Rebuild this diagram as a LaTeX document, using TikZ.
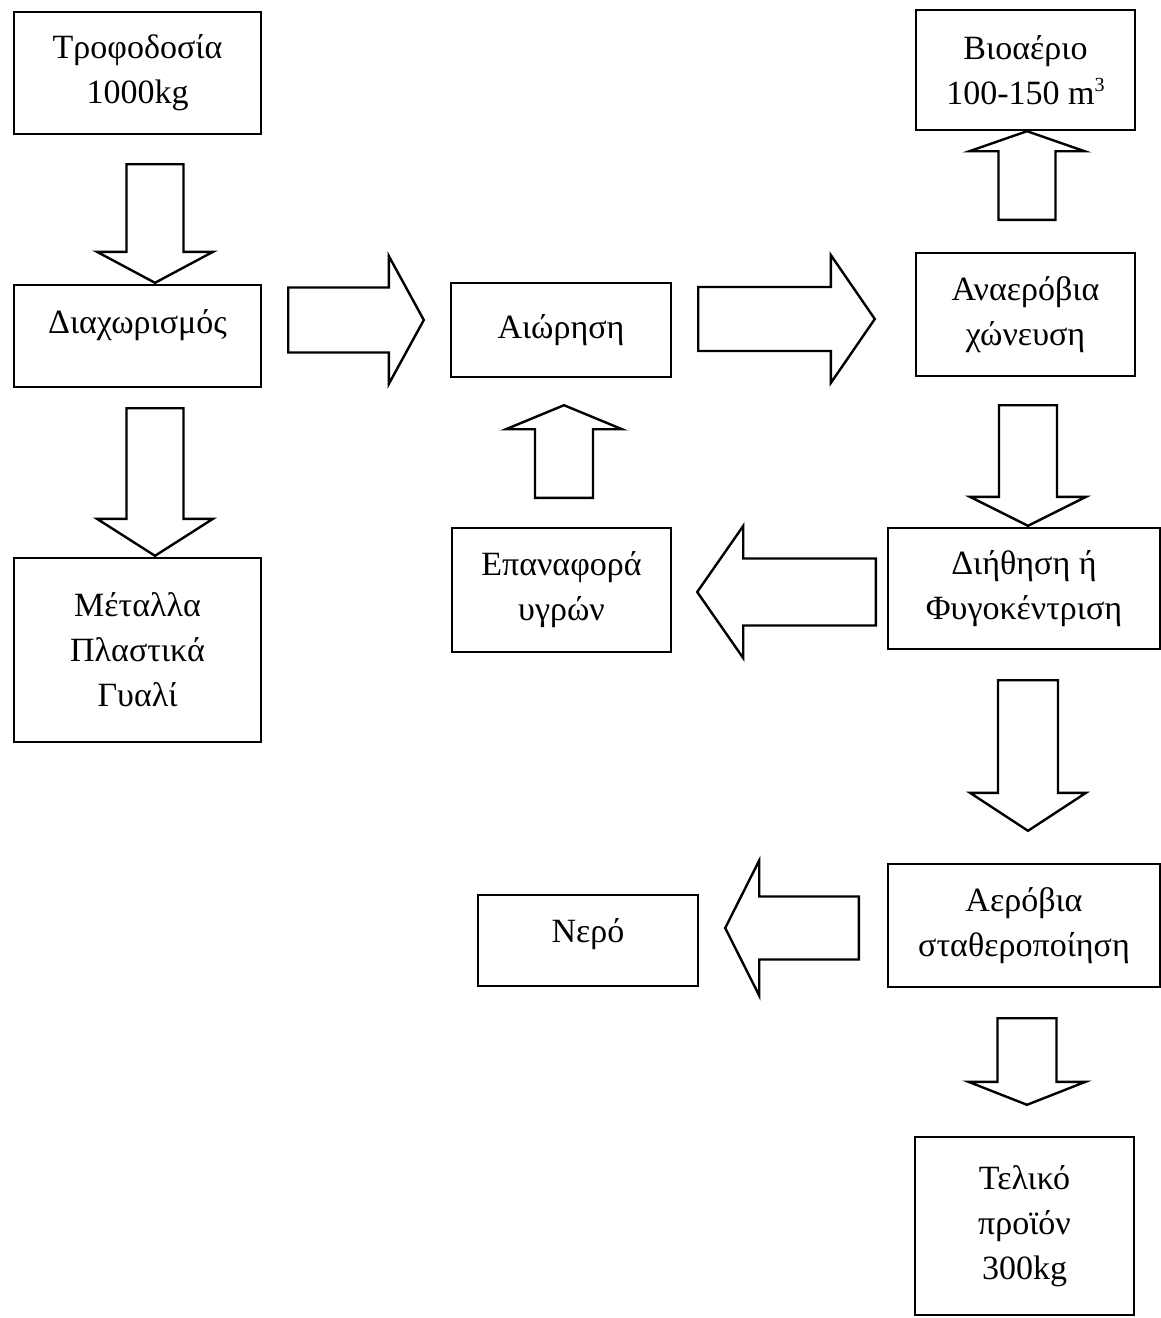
\documentclass[tikz,border=0pt]{standalone}
\usepackage{fontspec}
\setmainfont{Liberation Serif}
\usetikzlibrary{calc}

\tikzset{
  stage/.style={draw=black, line width=2.4pt, rectangle, inner sep=0pt,
    align=center, text=black, font=\fontsize{34}{45}\selectfont},
  flowarrow/.style={draw=black, line width=2.4pt, line join=miter, fill=white}
}

% Block arrow from #1 to #2: shaft half-width #3, head half-width #4, head length #5
\newcommand\blockflow[5]{%
  \path #1 coordinate (bf-s);
  \path #2 coordinate (bf-t);
  \path ($(bf-t)!#5!(bf-s)$) coordinate (bf-p);
  \draw[flowarrow]
    ($(bf-s)!#3!90:(bf-t)$) -- ($(bf-p)!#3!90:(bf-t)$) -- ($(bf-p)!#4!90:(bf-t)$)
    -- (bf-t) -- ($(bf-p)!#4!-90:(bf-t)$) -- ($(bf-p)!#3!-90:(bf-t)$)
    -- ($(bf-s)!#3!-90:(bf-t)$) -- cycle;
}
\newcommand\cubed{\raisebox{0.8ex}{\fontsize{20}{20}\selectfont 3}}

\begin{document}
\begin{tikzpicture}[x=1pt, y=-1pt]
\useasboundingbox[fill=white] (0,0) rectangle (1161,1318);

% process stages
\node[stage, minimum width=247pt, minimum height=122pt] (tro) at (137.5,73) {Τροφοδοσία\\1000kg};
\node[stage, minimum width=247pt, minimum height=102pt, text height=24pt, text depth=30pt] (sep) at (137.5,336) {Διαχωρισμός};
\node[stage, minimum width=247pt, minimum height=184pt] (met) at (137.5,650) {Μέταλλα\\Πλαστικά\\Γυαλί};
\node[stage, minimum width=220pt, minimum height=94pt] (aio) at (561,330) {Αιώρηση};
\node[stage, minimum width=219pt, minimum height=124pt] (epa) at (561.5,590) {Επαναφορά\\υγρών};
\node[stage, minimum width=219pt, minimum height=120pt] (bio) at (1025.5,70) {Βιοαέριο\\100-150 m\cubed};
\node[stage, minimum width=219pt, minimum height=123pt] (ana) at (1025.5,314.5) {Αναερόβια\\χώνευση};
\node[stage, minimum width=272pt, minimum height=121pt] (dii) at (1024,588.5) {Διήθηση ή\\Φυγοκέντριση};
\node[stage, minimum width=272pt, minimum height=123pt] (aer) at (1024,925.5) {Αερόβια\\σταθεροποίηση};
\node[stage, minimum width=219pt, minimum height=178pt] (tel) at (1024.5,1226) {Τελικό\\προϊόν\\300kg};
\node[stage, minimum width=220pt, minimum height=91pt, text height=25pt, text depth=22pt] (ner) at (588,940.5) {Νερό};

% flows between stages
\blockflow{($(tro.south)+(17.5,29)$)}{($(sep.north)+(17.5,-1)$)}{28.5pt}{58pt}{31pt}
\blockflow{($(sep.south)+(17.5,20)$)}{($(met.north)+(17.5,-1)$)}{28.5pt}{58pt}{37pt}
\blockflow{($(sep.east)+(26,-16)$)}{($(aio.west)+(-26,-10)$)}{32.5pt}{64pt}{35pt}
\blockflow{($(aio.east)+(26,-11)$)}{($(ana.west)+(-40,4.5)$)}{32pt}{64pt}{44pt}
\blockflow{($(epa.north)+(2.5,-29)$)}{($(aio.south)+(3,27)$)}{29pt}{58pt}{24pt}
\blockflow{($(dii.west)+(-11,3.5)$)}{($(epa.east)+(25,2)$)}{33.5pt}{66pt}{46pt}
\blockflow{($(ana.north)+(1.5,-32)$)}{($(bio.south)+(1.5,0)$)}{28.5pt}{57.5pt}{20pt}
\blockflow{($(ana.south)+(2.5,28)$)}{($(dii.north)+(4,-1)$)}{29pt}{58pt}{29pt}
\blockflow{($(dii.south)+(4,30)$)}{($(aer.north)+(4,-32)$)}{30pt}{58pt}{38pt}
\blockflow{($(aer.south)+(3,30)$)}{($(tel.north)+(2.5,-31)$)}{29.5pt}{58.5pt}{23pt}
\blockflow{($(aer.west)+(-28,2.5)$)}{($(ner.east)+(26,-12.5)$)}{31.5pt}{67.5pt}{34pt}
\end{tikzpicture}
\end{document}
